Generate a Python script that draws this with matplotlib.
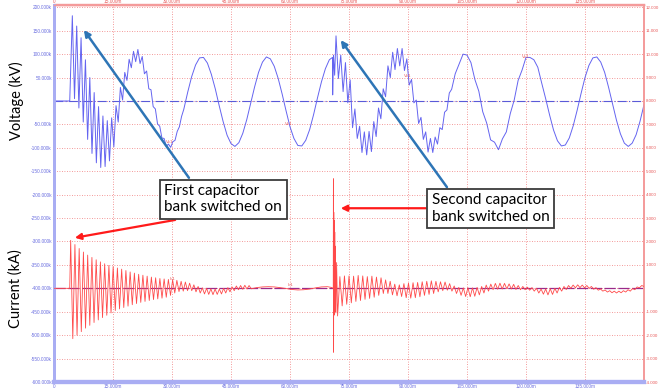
import matplotlib
matplotlib.use('Agg')
import matplotlib.pyplot as plt
import matplotlib.ticker as ticker
import numpy as np

# ---- data (time in ms, voltage in kV, current in kA) ----
volt_pre_t = [0.0, 4.0]
volt_pre_v = [0, 0]

# first switching transient, extrema between 4.66 ms and 33 ms
volt_sw1_span = (4.66, 32.99)
volt_sw1 = [182, 5, 160, -15, 135, -45, 88, -82, 50, -112,
            18, -132, -12, -142, -32, -140, -42, -128, -36, -98,
            -10, -45, 29, 2, 61, 44, 89, 71, 106, 84,
            110, 80, 95, 58, 64, 26, 24, -12, -17, -49,
            -54, -79, -80, -97, -92, -99, -87, -84, -65, -55,
            -33, -18]

# steady 60 Hz between the two switchings, 1 ms samples from 34 ms
volt_mid_start = 34
volt_mid = [19, 52, 77, 92, 93, 81, 57, 26, -10, -44,
            -73, -91, -97, -89, -69, -40, -5, 30, 61, 83,
            94, 90, 74, 48, 15, -21, -55, -80, -95, -96,
            -84, -61, -29, 7, 41, 69, 88]

# second switching instant
volt_sw2_t = [70.8, 70.85, 71.05, 71.35]
volt_sw2_v = [93, 13, 98, 55]

# ringing after second switching, extrema between 71.7 ms and 101.1 ms
volt_ring_span = (71.7, 101.1)
volt_ring = [139, 48, 98, 20, 82, -4, 45, -57, -17, -80,
             -54, -110, -66, -115, -65, -108, -44, -76, -15, -38,
             26, 9, 75, 50, 104, 67, 112, 75, 112, 65,
             90, 34, 46, -4, 2, -48, -35, -82, -66, -109,
             -80, -110, -77, -92, -57, -61, -24, -19, 17, 25]

# tail, 1 ms samples from 102 ms
volt_tail_start = 102
volt_tail = [58, 79, 100, 98, 82, 46, 21, -23, -47, -83,
             -88, -104, -81, -66, -27, 2, 44, 66, 93, 93,
             88, 72, 38, 5, -30, -62, -85, -96, -94, -79,
             -53, -20, 16, 50, 76, 92, 94, 83, 61, 29,
             -6, -41, -70, -90, -97, -90, -72, -43, -8]

cur_pre_t = [0.0, 4.0]
cur_pre_v = [0, 0]

# inrush of first bank, extrema between 4.24 ms and 50.14 ms
cur_sw1_span = (4.24, 50.14)
cur_sw1 = [2.05, -2.15, 1.87, -2.0, 1.7, -1.85, 1.55, -1.7, 1.42, -1.58,
           1.32, -1.46, 1.22, -1.35, 1.13, -1.25, 1.05, -1.15, 0.98, -1.05,
           0.93, -0.95, 0.87, -0.88, 0.82, -0.82, 0.76, -0.76, 0.7, -0.7,
           0.65, -0.65, 0.6, -0.6, 0.56, -0.56, 0.52, -0.52, 0.48, -0.48,
           0.45, -0.45, 0.42, -0.42, 0.4, -0.38, 0.38, -0.3, 0.36, -0.2,
           0.34, -0.14, 0.3, -0.12, 0.27, -0.1, 0.22, -0.1, 0.15, -0.15,
           0.08, -0.2, 0.02, -0.24, 0.0, -0.26, -0.02, -0.27, -0.03, -0.26,
           -0.03, -0.24, 0.0, -0.2, 0.03, -0.15, 0.06, -0.1, 0.1, -0.06,
           0.12, -0.04, 0.13, -0.03, 0.12, -0.02]

cur_mid_t = [51.5, 53, 54.5, 56, 57.5, 59, 60.5, 62, 63.5, 65, 66.5, 68, 69.5, 70.5]
cur_mid_v = [0.03, 0.06, 0.07, 0.06, 0.03, -0.01, -0.05, -0.07, -0.06, -0.03,
             0.02, 0.06, 0.07, 0.04]

# inrush spike of second bank
cur_sw2_t = [71.0, 71.04, 71.08, 71.13, 71.18, 71.24, 71.3, 71.38, 71.46,
             71.56, 71.68, 71.85, 72.1]
cur_sw2_v = [0.0, 4.68, -2.73, 3.25, -1.15, 2.9, -1.1, 2.4, -1.0, 1.8, -1.05, 1.1, -1.18]

# ringing after second bank, extrema between 72.68 ms and 150 ms
cur_ring_span = (72.68, 150.0)
cur_ring = [0.50, -0.75, 0.53, -0.68, 0.53, -0.62, 0.52, -0.56, 0.55, -0.52,
            0.53, -0.47, 0.50, -0.43, 0.52, -0.38, 0.48, -0.30, 0.45, -0.22,
            0.36, -0.22, 0.30, -0.28, 0.18, -0.32, 0.15, -0.35, 0.20, -0.40,
            0.22, -0.42, 0.24, -0.40, 0.25, -0.36, 0.28, -0.30, 0.30, -0.26,
            0.32, -0.22, 0.30, -0.15, 0.28, -0.10, 0.27, -0.08, 0.20, -0.12,
            0.10, -0.22, 0.04, -0.30, 0.02, -0.35, 0.03, -0.36, 0.02, -0.34,
            0.04, -0.28, 0.08, -0.20, 0.14, -0.12, 0.18, -0.06, 0.21, -0.04,
            0.22, -0.03, 0.21, -0.02, 0.19, -0.03, 0.17, -0.05, 0.12, -0.06,
            0.08, -0.06, 0.05, -0.08, 0.03, -0.12, 0.00, -0.20, -0.03, -0.25,
            -0.03, -0.28, -0.02, -0.26, 0.00, -0.20, 0.04, -0.12, 0.08, -0.05,
            0.12, 0.00, 0.14, 0.02, 0.15, 0.03, 0.14, 0.02, 0.12, 0.00,
            0.08, -0.04, 0.03, -0.08, -0.03, -0.12, -0.07, -0.16, -0.10, -0.19,
            -0.12, -0.20, -0.12, -0.19, -0.10, -0.16, -0.06, -0.12, -0.01, -0.06,
            0.06, 0.02, 0.12, 0.08]

x_ticks = [0, 15, 30, 45, 60, 75, 90, 105, 120, 135]
v_label_pts = [(29.5, -88), (59.7, -49), (90.0, 54), (120.0, 94)]
i_label_pts = [(30.0, 0.33), (60.0, 0.04)]


def seg(span, vals):
    return np.linspace(span[0], span[1], len(vals))


volt_t = np.concatenate([volt_pre_t, seg(volt_sw1_span, volt_sw1),
                         volt_mid_start + np.arange(len(volt_mid)), volt_sw2_t,
                         seg(volt_ring_span, volt_ring),
                         volt_tail_start + np.arange(len(volt_tail))])
volt_v = np.concatenate([volt_pre_v, volt_sw1, volt_mid, volt_sw2_v, volt_ring, volt_tail])

cur_t = np.concatenate([cur_pre_t, seg(cur_sw1_span, cur_sw1), cur_mid_t, cur_sw2_t,
                        seg(cur_ring_span, cur_ring)])
cur_v = np.concatenate([cur_pre_v, cur_sw1, cur_mid_v, cur_sw2_v, cur_ring])

# ---- styling ----
BLUE_AX = '#a9adf3'
PINK_AX = '#f49a9a'
BLUE_TXT = '#6b6fe0'
RED_TXT = '#e85a5a'
GRID = '#f07878'

plt.rcParams['font.family'] = ['Liberation Sans', 'DejaVu Sans']

fig = plt.figure(figsize=(6.6, 3.89), dpi=100)
ax = fig.add_axes([54 / 660, 1 - 382 / 389, 590 / 660, 377.5 / 389])
ax.set_xlim(0, 150)
ax.set_ylim(-600, 206)

ax2 = ax.twinx()
ax2.set_ylim(-600 / 50 + 8, 206 / 50 + 8)

# grid
for yv in np.arange(-600, 201, 50):
    ax.axhline(yv, color=GRID, lw=0.6, ls=(0, (1, 2)), zorder=0)
for xv in x_ticks[1:]:
    ax.axvline(xv, color=GRID, lw=0.6, ls=(0, (1, 2)), zorder=0)

# reference lines
ax.axhline(0, color='#5a5ad8', lw=0.8, ls=(0, (8, 2, 1, 2)), zorder=1)
ax.axhline(-400, color='#9a2a8a', lw=0.9, ls=(0, (9, 2)), zorder=1)

ax.plot(volt_t, volt_v, color='#6464f0', lw=0.7, zorder=3)
ax2.plot(cur_t, cur_v, color='#ff4a4a', lw=0.6, zorder=3)

for t, v in v_label_pts:
    ax.text(t, v, 'Vc1', color=RED_TXT, fontsize=3.2, ha='center', va='center', zorder=4)
for t, v in i_label_pts:
    ax2.text(t, v, 'Ic1', color=RED_TXT, fontsize=3.2, ha='center', va='bottom', zorder=4)

# axes ticks / labels
ax.set_xticks(x_ticks)
ax.xaxis.set_major_formatter(ticker.FuncFormatter(lambda x, _: '0' if x == 0 else f'{x:.3f}m'))
ax.set_yticks(np.arange(-600, 201, 50))
ax.yaxis.set_major_formatter(ticker.FuncFormatter(lambda y, _: '' if y == 0 else f'{y:.3f}k'))
ax.tick_params(axis='both', length=0, pad=1.5, labelsize=3.4, colors=BLUE_TXT)

ax2.set_yticks(np.arange(-4, 13, 1))
ax2.yaxis.set_major_formatter(ticker.FuncFormatter(lambda y, _: '' if y == 0 else f'{y:.3f}'))
ax2.tick_params(axis='y', length=0, pad=1.5, labelsize=3.2, colors=RED_TXT)

top = ax.secondary_xaxis('top')
top.set_xticks(x_ticks)
top.xaxis.set_major_formatter(ticker.FuncFormatter(lambda x, _: '0' if x == 0 else f'{x:.3f}m'))
top.tick_params(length=0, pad=0.5, labelsize=3.4, colors=RED_TXT)
top.spines['top'].set_color(PINK_AX)
top.spines['top'].set_linewidth(1.0)

for a in (ax, ax2):
    a.spines['left'].set_color(BLUE_AX)
    a.spines['left'].set_linewidth(2.0)
    a.spines['bottom'].set_color(BLUE_AX)
    a.spines['bottom'].set_linewidth(3.0)
    a.spines['top'].set_color(PINK_AX)
    a.spines['top'].set_linewidth(1.0)
    a.spines['right'].set_color(PINK_AX)
    a.spines['right'].set_linewidth(1.2)

# axis titles
fig.text(16 / 660, 1 - 101 / 389, 'Voltage (kV)', rotation=90, ha='center', va='center',
         fontsize=10.5, family='Lato')
fig.text(16 / 660, 1 - 289 / 389, 'Current (kA)', rotation=90, ha='center', va='center',
         fontsize=10.5, family='Lato')

# callouts
arrow_blue = dict(arrowstyle='-|>', color='#2e75b6', lw=1.8, mutation_scale=9, shrinkA=0, shrinkB=0)
arrow_red = dict(arrowstyle='-|>', color='#ff1a1a', lw=1.6, mutation_scale=9, shrinkA=0, shrinkB=0)
ax2.annotate('', xy=(7.6, 151.6), xytext=(34.3, -164), xycoords=ax.transData,
             textcoords=ax.transData, arrowprops=arrow_blue, zorder=5)
ax2.annotate('', xy=(5.3, -292), xytext=(30.8, -254), xycoords=ax.transData,
             textcoords=ax.transData, arrowprops=arrow_red, zorder=5)
ax2.annotate('', xy=(72.9, 130), xytext=(99.9, -184), xycoords=ax.transData,
             textcoords=ax.transData, arrowprops=arrow_blue, zorder=5)
ax2.annotate('', xy=(72.9, -229), xytext=(94.5, -229), xycoords=ax.transData,
             textcoords=ax.transData, arrowprops=arrow_red, zorder=5)

box = dict(boxstyle='square,pad=0.3', fc='white', ec='#3c3c3c', lw=1.3)
ax2.text(43, -210, 'First capacitor\nbank switched on', transform=ax.transData,
         ha='center', va='center', multialignment='left', fontsize=11, family='Lato',
         linespacing=1.2, bbox=box, zorder=6)
ax2.text(111, -229.6, 'Second capacitor\nbank switched on', transform=ax.transData,
         ha='center', va='center', multialignment='left', fontsize=11, family='Lato',
         linespacing=1.2, bbox=box, zorder=6)

fig.savefig('out.png', dpi=100)
